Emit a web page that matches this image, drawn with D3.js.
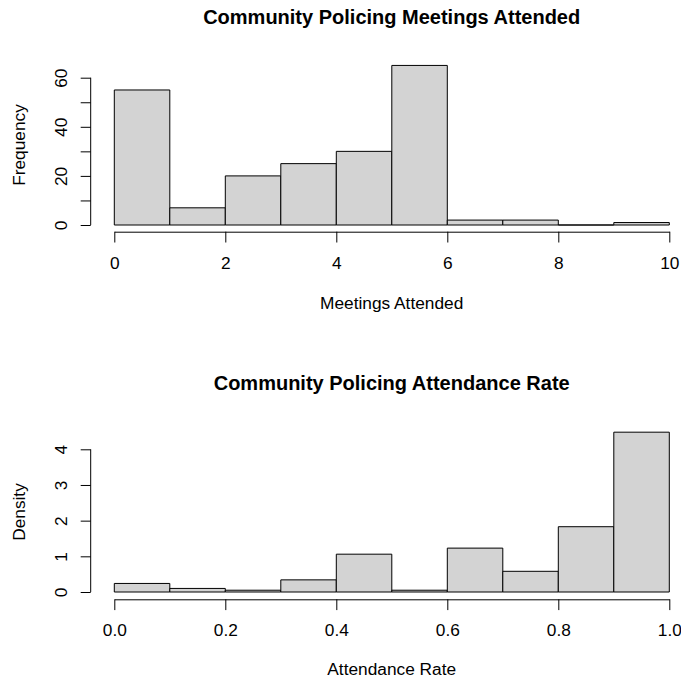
<!DOCTYPE html>
<html>
<head>
<meta charset="utf-8">
<script src="https://cdn.jsdelivr.net/npm/d3@7"></script>
<style>
  body { margin: 0; background: #fff; }
  svg { display: block; font-family: "Liberation Sans", Arial, Helvetica, sans-serif; }
  .axis path, .axis line { stroke: #000; stroke-width: 1; }
  .axis text { fill: #000; font-size: 17.3px; }
  .bar { fill: #d3d3d3; stroke: #000; stroke-width: 1; }
  .title { font-size: 20px; font-weight: bold; }
  .axis-title { font-size: 17.3px; }
</style>
</head>
<body>
<div id="chart"></div>
<script>
// Panel 1: meetings attended (counts per bin of width 1)
const meetingBreaks = [0, 1, 2, 3, 4, 5, 6, 7, 8, 9, 10];
const meetingCounts = [55, 7, 20, 25, 30, 65, 2, 2, 0, 1];
const meetingXTicks = [0, 2, 4, 6, 8, 10];
const meetingYTicks = [0, 10, 20, 30, 40, 50, 60];
const meetingYLabels = ['0', '', '20', '', '40', '', '60'];

// Panel 2: attendance rate (density per bin of width 0.1)
const rateBreaks = [0, 0.1, 0.2, 0.3, 0.4, 0.5, 0.6, 0.7, 0.8, 0.9, 1.0];
const rateDensity = [0.24, 0.10, 0.05, 0.34, 1.06, 0.05, 1.23, 0.58, 1.83, 4.48];
const rateXTicks = [0, 0.2, 0.4, 0.6, 0.8, 1.0];
const rateYTicks = [0, 1, 2, 3, 4];
const rateYLabels = ['0', '1', '2', '3', '4'];

const WIDTH = 681;
const HEIGHT = 683;
const X_LEFT = 114.3;
const X_RIGHT = 669.3;
const Y_AXIS_X = 90.7;
const PLOT_CENTER_X = 391.7;

const svg = d3.select('#chart')
  .append('svg')
  .attr('width', WIDTH)
  .attr('height', HEIGHT);

svg.append('rect').attr('width', WIDTH).attr('height', HEIGHT).attr('fill', '#fff');

function drawHist(opts) {
  const g = svg.append('g');

  const x = d3.scaleLinear().domain([opts.breaks[0], opts.breaks[opts.breaks.length - 1]]).range([X_LEFT, X_RIGHT]);
  const y = d3.scaleLinear().domain(opts.yDomain).range(opts.yRange);

  const bins = opts.values.map((v, i) => ({ x0: opts.breaks[i], x1: opts.breaks[i + 1], v }));

  // bars as paths so an empty bin still shows its flat outline
  g.selectAll('.bar')
    .data(bins)
    .enter()
    .append('path')
    .attr('class', 'bar')
    .attr('d', d => `M${x(d.x0)},${y(0)}H${x(d.x1)}V${y(d.v)}H${x(d.x0)}Z`);

  // x axis (R style: line spans first..last tick, no outer ticks)
  const xAxis = g.append('g')
    .attr('class', 'axis')
    .attr('transform', `translate(0, ${opts.xAxisY})`)
    .call(d3.axisBottom(x).tickValues(opts.xTicks).tickSize(10.8).tickSizeOuter(0).tickFormat(opts.xFormat));
  xAxis.selectAll('text').attr('y', 37).attr('dy', null);

  // y axis with labels parallel to axis
  const yAxis = g.append('g')
    .attr('class', 'axis')
    .attr('transform', `translate(${Y_AXIS_X}, 0)`)
    .call(d3.axisLeft(y).tickValues(opts.yTicks).tickSize(10).tickSizeOuter(0)
      .tickFormat((d, i) => opts.yLabels[i]));
  yAxis.select('.domain').attr('d', `M0,${y(opts.yTicks[0])}V${y(opts.yTicks[opts.yTicks.length - 1])}`);
  yAxis.selectAll('text')
    .attr('x', null)
    .attr('dy', null)
    .attr('text-anchor', 'middle')
    .attr('transform', 'translate(-23.7, 0) rotate(-90)');

  svg.append('text')
    .attr('class', 'title')
    .attr('x', PLOT_CENTER_X)
    .attr('y', opts.titleY)
    .attr('text-anchor', 'middle')
    .text(opts.title);

  svg.append('text')
    .attr('class', 'axis-title')
    .attr('x', PLOT_CENTER_X)
    .attr('y', opts.xTitleY)
    .attr('text-anchor', 'middle')
    .text(opts.xTitle);

  svg.append('text')
    .attr('class', 'axis-title')
    .attr('text-anchor', 'middle')
    .attr('transform', `translate(25.3, ${opts.yTitleCenter}) rotate(-90)`)
    .text(opts.yTitle);
}

drawHist({
  breaks: meetingBreaks,
  values: meetingCounts,
  yDomain: [0, 60],
  yRange: [225, 77.7],
  xTicks: meetingXTicks,
  xFormat: d3.format('d'),
  yTicks: meetingYTicks,
  yLabels: meetingYLabels,
  xAxisY: 231.7,
  title: 'Community Policing Meetings Attended',
  titleY: 23.8,
  xTitle: 'Meetings Attended',
  xTitleY: 308.6,
  yTitle: 'Frequency',
  yTitleCenter: 145,
});

drawHist({
  breaks: rateBreaks,
  values: rateDensity,
  yDomain: [0, 4],
  yRange: [592, 449.3],
  xTicks: rateXTicks,
  xFormat: d3.format('.1f'),
  yTicks: rateYTicks,
  yLabels: rateYLabels,
  xAxisY: 599.3,
  title: 'Community Policing Attendance Rate',
  titleY: 390,
  xTitle: 'Attendance Rate',
  xTitleY: 675,
  yTitle: 'Density',
  yTitleCenter: 512,
});
</script>
</body>
</html>
